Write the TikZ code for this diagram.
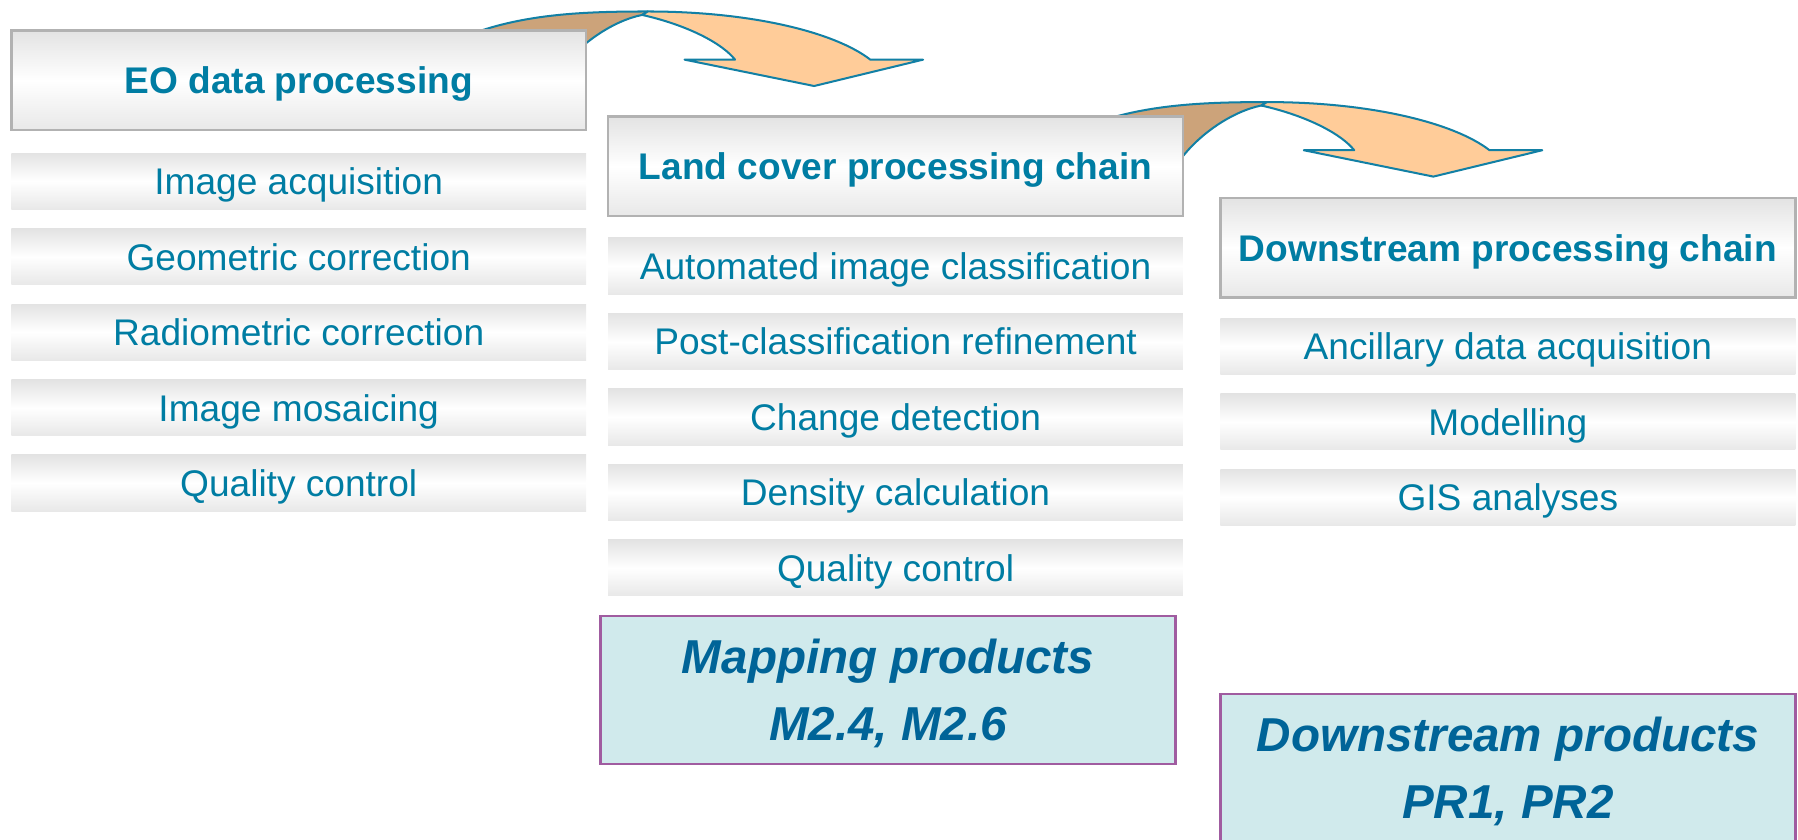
\documentclass[tikz,border=0pt]{standalone}
\usepackage{fontspec}
\setmainfont{Liberation Sans}
\usepackage{xcolor}
\usepackage{tikz}
\usetikzlibrary{positioning, backgrounds}
\definecolor{chainteal}{RGB}{0, 125, 163}
\definecolor{prodblue}{RGB}{0, 100, 152}
\definecolor{prodfill}{RGB}{208, 234, 236}
\definecolor{prodedge}{RGB}{160, 92, 160}
\definecolor{bandfront}{RGB}{255, 204, 153}
\definecolor{bandback}{RGB}{204, 163, 122}
\definecolor{bandedge}{RGB}{18, 128, 165}

\begin{document}
\begin{tikzpicture}[x=0.01cm, y=-0.01cm,
  hdr/.style={draw=gray!60, line width=0.6pt, top color=gray!22, bottom color=gray!18, middle color=white, minimum width=5.01cm, minimum height=0.87cm, inner sep=0pt, outer sep=0pt, text depth=0pt, text=chainteal, font=\fontsize{9.2}{11}\selectfont\bfseries},
  item/.style={top color=gray!22, bottom color=gray!18, middle color=white, minimum width=5.01cm, minimum height=0.49cm, inner sep=0pt, outer sep=0pt, text depth=0pt, text=chainteal, font=\fontsize{9.2}{11}\selectfont},
  prod/.style={draw=prodedge, line width=0.6pt, fill=prodfill, minimum width=5.01cm, minimum height=1.29cm, align=center, text depth=0pt, text=prodblue, font=\fontsize{11.8}{16.8}\selectfont\bfseries\itshape},
  band/.style={draw=bandedge, line width=0.5pt, line join=round},
]
  \useasboundingbox (0,0) rectangle (1568,732);
  \clip (0,0) rectangle (1568,732);

  % EO data processing
  \node[hdr] (eo) at (260.5,70) {EO data processing};
  \node[item, below=0.2cm of eo] (acq) {Image acquisition};
  \node[item, below=0.1675cm of acq] (geo) {Geometric correction};
  \node[item, below=0.1675cm of geo] (radio) {Radiometric correction};
  \node[item, below=0.1675cm of radio] (mosaic) {Image mosaicing};
  \node[item, below=0.1675cm of mosaic] (eoqc) {Quality control};

  % Land cover chain
  \node[hdr] (lcc) at (781,145) {Land cover processing chain};
  \node[item, below=0.19cm of lcc] (autocls) {Automated image classification};
  \node[item, below=0.1675cm of autocls] (postcls) {Post-classification refinement};
  \node[item, below=0.1675cm of postcls] (change) {Change detection};
  \node[item, below=0.1675cm of change] (density) {Density calculation};
  \node[item, below=0.1675cm of density] (lccqc) {Quality control};

  % Downstream chain
  \node[hdr] (dsc) at (1315,216) {Downstream processing chain};
  \node[item, below=0.18cm of dsc] (ancil) {Ancillary data acquisition};
  \node[item, below=0.1675cm of ancil] (model) {Modelling};
  \node[item, below=0.1675cm of model] (gis) {GIS analyses};

  % Products
  \node[prod] (mapprod) at (774.5,601.5) {Mapping products\\M2.4, M2.6};
  \node[prod] (dsprod) at (1315,669.5) {Downstream products\\PR1, PR2};

  % Curved arrows between the chains
  \begin{scope}[on background layer]
    \draw[band, fill=bandback] (410,30) .. controls (458,12) and (510,10) .. (565,10) -- (560,13)
      .. controls (535,18) and (505,38) .. (488,62) -- cycle;
    \draw[band, fill=bandfront] (565,10) .. controls (655,10) and (728,28) .. (759,52) -- (805,52)
      -- (710,75) -- (597,52) -- (641,52) .. controls (630,38) and (600,22) .. (560,13) -- cycle;
  \end{scope}
  \begin{scope}[on background layer, shift={(540,79)}]
    \draw[band, fill=bandback] (410,30) .. controls (458,12) and (510,10) .. (565,10) -- (560,13)
      .. controls (535,18) and (505,38) .. (488,62) -- cycle;
    \draw[band, fill=bandfront] (565,10) .. controls (655,10) and (728,28) .. (759,52) -- (805,52)
      -- (710,75) -- (597,52) -- (641,52) .. controls (630,38) and (600,22) .. (560,13) -- cycle;
  \end{scope}
\end{tikzpicture}
\end{document}
